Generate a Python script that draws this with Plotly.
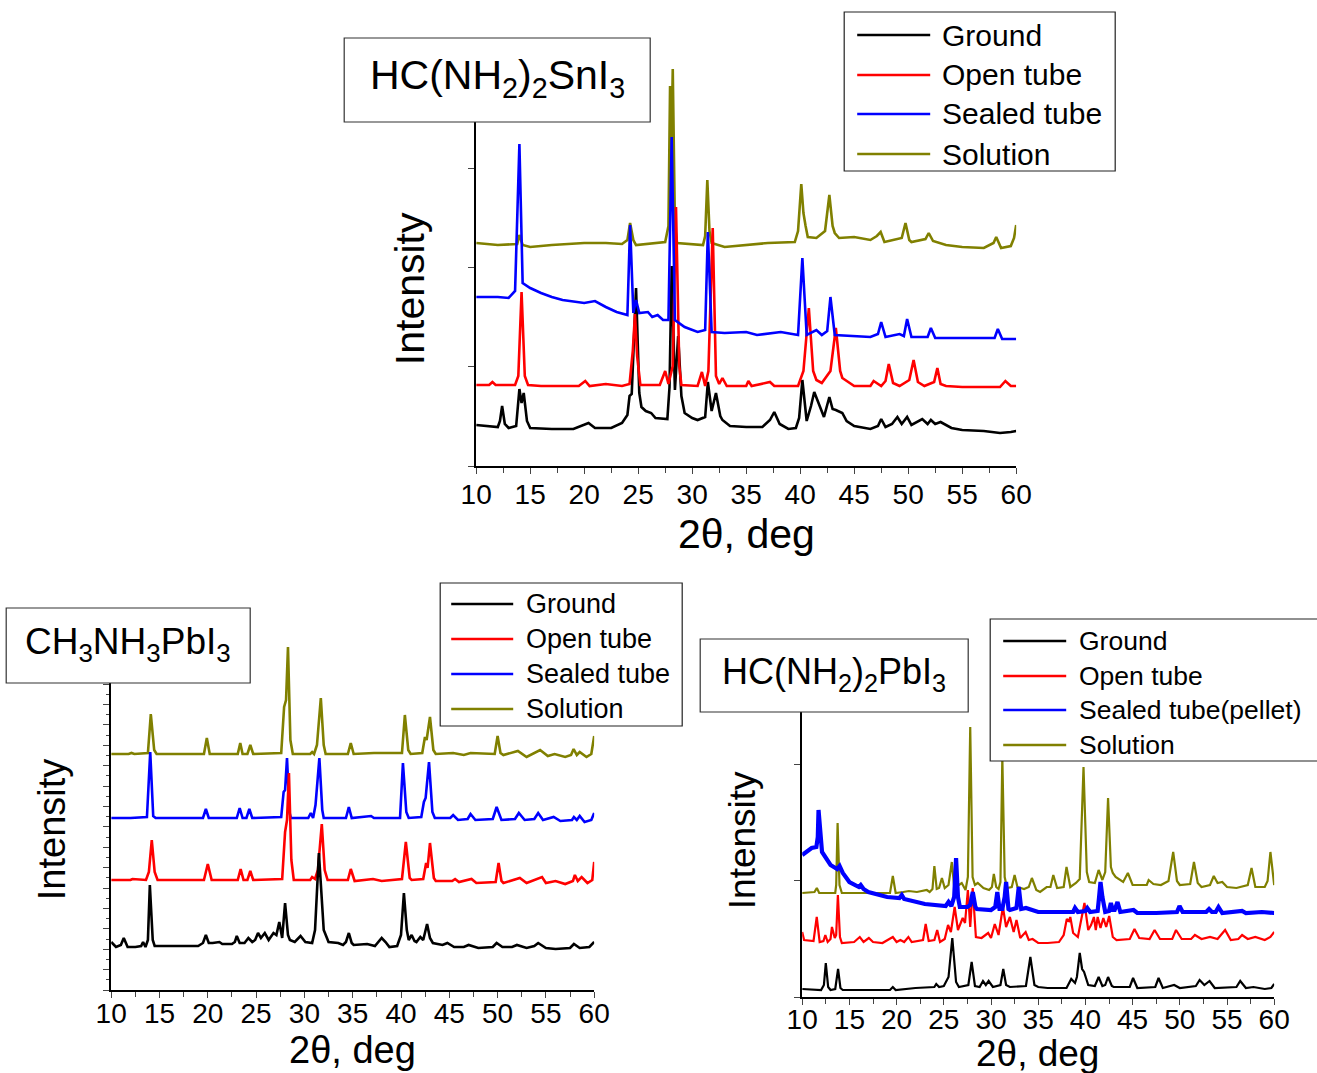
import plotly.graph_objects as go

W, H = 1317, 1073
FONT = "Arial, 'Liberation Sans', sans-serif"
# The page draws the figure in a box that starts ~16px from the left and is ~1285px wide;
# horizontal pixel targets are converted with this.
PAGE_X0, PAGE_W = 15.8, 1285.0

SERIES = ["Ground", "Open tube", "Sealed tube", "Solution"]
SERIES_P3 = ["Ground", "Open tube", "Sealed tube(pellet)", "Solution"]
COLORS = {"Ground": "#000000", "Open tube": "#FF0000", "Sealed tube": "#0000FF", "Solution": "#808000"}
X_TICKS = [10, 15, 20, 25, 30, 35, 40, 45, 50, 55, 60]
TITLES = ["HC(NH<sub>2</sub>)<sub>2</sub>SnI<sub>3</sub>", "CH<sub>3</sub>NH<sub>3</sub>PbI<sub>3</sub>",
          "HC(NH<sub>2</sub>)<sub>2</sub>PbI<sub>3</sub>"]

P1_GROUND = [(10,41),(11,40),(12,39),(12.2,45),(12.4,60),(12.65,42),(13,38),(13.7,40),(14.0,77),(14.2,63),(14.4,73),
             (14.7,45),(15,38),(17,37),(19,37),(20.4,43),(21,38),(22.5,38),(23.5,43),(24.0,51),(24.2,70),(24.4,72),
             (24.8,178),(25.1,73),(25.3,59),(25.7,55),(26.2,53),(26.6,48),(27.3,47),(27.7,47),(27.9,79),(28.1,200),
             (28.4,76),(28.7,130),(29.0,70),(29.3,53),(30,48),(30.5,46),(31.2,49),(31.45,84),(31.8,55),(32.2,73),
             (32.6,50),(32.8,46),(33.5,40),(35,39),(36.5,39),(37.2,46),(37.6,54),(38.1,42),(38.9,37),(39.6,38),
             (39.9,48),(40.2,86),(40.6,45),(41.0,60),(41.3,74),(41.7,62),(42.2,49),(42.7,69),(43.0,57),(43.3,56),
             (43.9,53),(44.3,45),(45,40),(46.5,37),(47.2,40),(47.5,47),(47.9,39),(48.5,42),(49,49),(49.4,42),
             (49.9,49),(50.3,41),(51.3,47),(51.8,42),(52.1,46),(52.5,42),(53,44),(54,38),(55,36),(57,35),(58.5,33),
             (59.5,34),(60,35)]
P1_OPEN = [(10,81),(11.2,81),(11.5,84),(11.8,81),(13.6,81),(13.9,90),(14.2,174),(14.5,90),(14.8,81),(16,80),(19.5,80),
           (20.1,85),(20.5,80),(22,82),(23.5,80),(24.2,82),(24.5,115),(24.7,152),(24.9,110),(25.2,81),(27.0,81),
           (27.5,95),(27.8,82),(28.2,100),(28.5,259),(28.8,100),(29.0,81),(30.5,80),(30.9,94),(31.2,80),(31.5,95),
           (31.9,238),(32.2,90),(32.5,82),(32.8,88),(33.2,80),(35.0,80),(35.2,85),(35.5,80),(37.2,84),(37.6,80),
           (39.8,80),(40.3,95),(40.8,158),(41.2,95),(41.5,86),(42.0,83),(42.8,95),(43.3,138),(43.7,95),(43.9,88),
           (44.3,85),(45,80),(46.5,80),(46.8,85),(47.5,80),(47.9,85),(48.2,102),(48.6,83),(49.2,80),(50.1,86),
           (50.5,106),(50.9,84),(51.5,80),(52.4,84),(52.7,98),(53.0,82),(53.5,80),(55,79),(58.5,79),(59,85),
           (59.5,80),(60,80)]
P1_SEALED = [(10,169),(12,169),(13,168),(13.6,175),(14.0,322),(14.3,183),(15,178),(16,173),(17,169),(18,166),(20,163),
             (21,165),(22,159),(23,154),(24,151),(24.25,241),(24.55,153),(24.8,166),(25.1,153),(25.9,154),(26.3,149),
             (26.8,151),(27.3,146),(27.8,146),(28.1,329),(28.4,146),(29.3,139),(30.5,134),(31.2,136),(31.45,234),
             (31.8,134),(33,133),(35,134),(36,131),(38.2,134),(39.8,131),(40.2,208),(40.6,131),(41.5,136),(42.0,131),
             (42.5,135),(42.8,169),(43.2,131),(46.5,129),(47.2,132),(47.5,144),(47.9,129),(49.2,132),(49.6,130),
             (49.9,147),(50.3,129),(51.8,129),(52.1,138),(52.5,128),(55,128),(58.0,128),(58.3,137),(58.7,127),(60,127)]
P1_SOLUTION = [(10,223),(12,221),(13.8,222),(14.0,231),(14.3,221),(15,219),(17,221),(20,223),(22,223),(23.5,222),
               (24.0,226),(24.25,243),(24.55,226),(24.8,221),(27.5,224),(27.8,240),(27.95,380),(28.05,300),
               (28.2,397),(28.4,240),(28.6,223),(31.0,221),(31.2,230),(31.4,286),(31.6,235),(31.8,223),(33,219),
               (35,221),(37,223),(39.5,224),(39.8,235),(40.1,282),(40.3,253),(40.5,240),(40.7,229),(41.5,228),
               (42.3,235),(42.7,271),(43.0,240),(43.2,233),(43.6,228),(45,229),(46.5,226),(47.1,230),(47.45,234),
               (47.8,224),(49.4,228),(49.75,243),(50.1,226),(50.3,224),(51.6,227),(51.9,233),(52.3,225),(53.5,221),
               (55,219),(57,218),(57.9,223),(58.15,229),(58.6,218),(59.5,220),(59.8,228),(60,241)]

P2_GROUND = [(10,48),(10.5,43),(11.0,45),(11.3,52),(11.7,43),(12.5,43),(13.1,44),(13.3,48),(13.55,43),(13.8,50),
             (14.0,105),(14.3,50),(14.5,44),(16,44),(19,44),(19.5,47),(19.8,55),(20.1,47),(20.5,47),(21.2,48),
             (21.5,46),(22.5,46),(22.8,48),(23,54),(23.3,47),(23.8,47),(24.2,52),(24.6,48),(24.9,50),(25.2,57),
             (25.5,52),(25.9,57),(26.3,50),(26.8,57),(27.1,55),(27.4,68),(27.7,52),(28.0,87),(28.3,55),(28.5,50),
             (29.0,48),(29.6,54),(30.1,48),(30.8,47),(31.1,60),(31.5,137),(31.8,90),(32.0,60),(32.5,48),(33.5,47),
             (34.0,45),(34.3,48),(34.6,57),(34.9,47),(35.1,45),(36,46),(36.5,46),(37.3,44),(37.8,50),(38.0,52),
             (38.4,48),(38.8,43),(39.6,44),(40.0,55),(40.3,97),(40.6,60),(40.8,50),(41.1,55),(41.4,49),(41.6,48),
             (42.0,53),(42.3,50),(42.7,66),(43.0,52),(43.3,47),(44.3,45),(44.8,47),(45.5,43),(46.5,43),(47,45),
             (48,42),(49.5,43),(49.9,47),(50.5,43),(51.5,43),(52,45),(53,42),(53.8,44),(54.2,47),(55,42),(56,41),
             (57.5,42),(57.9,46),(58.5,42),(59.5,43),(60,48)]
P2_OPEN = [(10,110),(12,110),(12.2,111),(13.6,110),(13.9,118),(14.2,150),(14.5,118),(14.8,110),(19.6,110),(20.0,126),
           (20.4,110),(23.1,110),(23.4,121),(23.7,110),(24.1,110),(24.4,119),(24.7,110),(27.7,111),(28.0,158),
           (28.2,170),(28.4,217),(28.65,130),(28.9,110),(30.6,110),(30.8,113),(31.1,111),(31.4,120),(31.8,166),
           (32.1,120),(32.4,110),(34.5,110),(34.8,121),(35.2,109),(37.1,111),(38,109),(40.1,111),(40.5,148),
           (40.9,112),(41.1,110),(42.3,111),(42.6,127),(42.75,122),(43.0,147),(43.4,112),(43.6,109),(45.3,109),
           (45.6,111),(46,108),(47.3,111),(47.8,107),(49.8,108),(50.1,127),(50.4,109),(50.6,107),(52.3,112),
           (53,107),(54.6,113),(55,107),(56,109),(57,106),(57.8,109),(58.0,115),(58.3,109),(58.7,113),(59.3,107),
           (59.8,110),(60,128)]
P2_SEALED = [(10,172),(12,172),(13.7,173),(14.04,238),(14.35,174),(14.6,172),(19.5,172),(19.8,181),(20.1,172),
             (23.0,172),(23.3,182),(23.6,172),(24.0,172),(24.3,181),(24.6,172),(27.6,173),(27.85,198),(28.0,200),
             (28.2,232),(28.45,178),(28.6,172),(30.4,172),(30.66,177),(30.9,172),(31.15,185),(31.3,203),(31.55,232),
             (31.85,180),(32.0,172),(34.3,172),(34.6,183),(34.9,172),(36.9,174),(37.2,172),(39.9,172),(40.2,227),
             (40.55,178),(40.8,172),(42.1,173),(42.37,188),(42.55,192),(42.9,228),(43.25,178),(43.5,172),(45.1,172),
             (45.4,175),(45.9,170),(46.9,171),(47.2,176),(47.7,170),(49.5,171),(49.9,183),(50.4,170),(51.8,171),
             (52.2,177),(52.8,170),(53.8,171),(54.2,177),(54.7,170),(55.8,173),(56.5,169),(57.7,170),(57.9,173),
             (58.2,170),(58.5,174),(59,168),(59.7,170),(60,177)]
P2_SOLUTION = [(10,236),(11.8,236),(12.1,237),(12.4,236),(13.8,237),(14.1,276),(14.45,240),(14.7,236),(19.6,236),
               (19.9,252),(20.2,236),(23.1,236),(23.36,247),(23.6,236),(24.1,236),(24.4,245),(24.7,236),(27.6,237),
               (27.9,283),(28.1,290),(28.3,343),(28.55,250),(28.8,236),(30.6,236),(30.8,238),(31.0,236),(31.3,245),
               (31.5,267),(31.7,292),(32.0,245),(32.2,236),(34.5,236),(34.8,247),(35.1,236),(37.2,237),(40.1,237),
               (40.4,275),(40.75,240),(41.0,236),(42.2,237),(42.48,253),(42.65,250),(43.0,273),(43.35,240),
               (43.6,236),(45.4,237),(46.5,235),(47.2,237),(49.7,236),(50.0,254),(50.3,237),(50.6,235),(52.1,239),
               (53,233),(54.4,240),(55.2,234),(55.9,236),(57,233),(57.6,235),(57.87,241),(58.2,235),(58.5,238),
               (59.2,233),(59.7,236),(60,254)]

P3_GROUND = [(10,8),(12.0,7),(12.3,12),(12.5,34),(12.75,10),(13.0,7),(13.5,8),(13.8,28),(14.05,9),(14.3,7),(19.3,7),
             (19.6,10),(19.9,7),(22,9),(24.0,10),(24.2,13),(24.5,10),(25.0,11),(25.5,20),(25.9,59),(26.3,15),
             (26.6,10),(27.6,12),(27.95,35),(28.3,11),(28.8,10),(29.15,16),(29.45,12),(29.75,16),(30.2,10),(31.0,12),
             (31.3,28),(31.6,12),(32.0,10),(33.7,11),(34.17,40),(34.6,12),(35.0,10),(36,9),(38.0,9),(38.5,18),
             (38.9,14),(39.1,20),(39.4,44),(39.65,28),(39.86,25),(40.3,12),(41.0,11),(41.4,20),(41.8,11),(42.1,12),
             (42.4,20),(42.8,11),(43,10),(44.7,10),(45.05,19),(45.5,9),(47.4,10),(47.75,19),(48.2,9),(49.4,12),
             (50,9),(51.7,11),(52.1,17),(52.6,12),(53.15,16),(53.7,9),(56.0,10),(56.4,16),(57,9),(57.8,10),(59,8),
             (59.7,9),(60,13)]
P3_OPEN = [(10,65),(10.2,57),(11.2,56),(11.54,80),(11.85,55),(12.25,56),(12.45,62),(12.7,55),(13.0,58),(13.15,70),
           (13.45,59),(13.6,62),(13.78,102),(14.0,60),(14.2,54),(15.5,55),(16.1,60),(16.5,55),(17.06,59),(17.5,55),
           (18.5,54),(19.6,60),(20.0,55),(20.4,57),(20.8,55),(21.25,60),(21.6,55),(22.4,56),(22.8,57),(23.08,73),
           (23.4,56),(24.0,57),(24.3,67),(24.6,55),(25.1,58),(25.45,72),(25.75,65),(26.15,90),(26.5,67),(27.0,79),
           (27.25,74),(27.55,107),(27.8,70),(28.06,109),(28.4,60),(29.0,59),(29.7,64),(30.0,59),(30.4,73),(30.8,62),
           (31.26,90),(31.6,70),(32.0,80),(32.4,65),(32.7,77),(33.1,59),(33.67,65),(34.0,57),(34.4,58),(35,54),
           (36,54),(37.2,55),(37.7,62),(38.03,78),(38.25,76),(38.4,80),(38.7,64),(39.2,60),(39.9,94),(40.3,67),
           (40.6,72),(40.9,80),(41.1,67),(41.3,80),(41.6,69),(41.9,79),(42.2,70),(42.52,81),(42.9,60),(43.3,57),
           (44.7,58),(45.2,68),(45.7,59),(46.8,58),(47.33,67),(47.9,58),(49.2,58),(49.6,67),(50.2,58),(51.2,58),
           (51.6,62),(52.3,58),(53.2,60),(54.0,58),(54.8,67),(55.4,57),(56.2,58),(56.6,62),(57.2,58),(58.0,60),
           (59.0,57),(59.6,60),(60,65)]
P3_SEALED = [(10,142),(11.0,149),(11.5,150),(11.65,160),(11.73,187),(11.85,170),(12.1,145),(13.0,132),(13.7,128),
             (13.96,131),(14.3,124),(15.0,115),(16.0,110),(16.2,112),(16.5,108),(17.0,105),(19.0,100),(20.3,99),
             (20.55,102),(20.8,98),(23.0,93),(25.2,91),(25.5,95),(25.8,91),(26.1,100),(26.3,139),(26.5,100),
             (26.7,90),(27.5,90),(27.8,92),(28.07,105),(28.35,90),(28.5,88),(30.0,87),(30.45,90),(30.67,105),
             (30.9,88),(31.2,88),(31.45,100),(31.6,115),(31.85,88),(32.0,87),(32.7,89),(32.94,110),(33.2,88),
             (33.7,89),(35,85),(37,85),(38.7,85),(38.9,89),(39.2,85),(40.0,86),(40.2,89),(40.5,85),(41.3,86),
             (41.45,100),(41.6,115),(41.8,100),(42.1,85),(42.5,86),(42.7,94),(42.9,87),(43.1,87),(43.4,95),
             (43.7,85),(45.1,87),(45.5,84),(47.5,84),(49.7,85),(49.97,91),(50.3,85),(52.8,85),(53.1,88),(53.4,85),
             (53.8,85),(54.1,90),(54.5,84),(56.6,86),(57.0,84),(58.7,85),(60,84)]
P3_SOLUTION = [(10,104),(11.3,105),(11.55,109),(11.8,104),(13.5,104),(13.6,112),(13.75,174),(13.95,112),(14.2,104),
               (17,104),(19.3,104),(19.6,121),(19.9,104),(20.7,105),(21.3,106),(22.15,105),(23.2,107),(23.5,105),
               (23.8,108),(24.0,131),(24.25,108),(24.5,109),(24.8,119),(25.1,109),(25.5,112),(25.85,135),(26.1,110),
               (26.6,112),(26.9,114),(27.3,107),(27.55,120),(27.8,270),(28.05,120),(28.3,112),(28.6,114),(29.2,109),
               (29.8,107),(30.1,110),(30.3,123),(30.55,110),(30.8,108),(31.0,115),(31.2,240),(31.45,120),(31.7,109),
               (32.2,110),(32.5,122),(32.8,110),(33.5,108),(34.0,110),(34.33,119),(34.8,107),(35.2,105),(35.9,110),
               (36.3,110),(36.6,122),(37.0,109),(37.7,110),(38.0,130),(38.4,110),(39.0,114),(39.4,118),(39.8,230),
               (40.15,125),(40.4,115),(41.0,114),(41.4,127),(41.8,117),(42.1,125),(42.4,199),(42.7,130),(42.9,124),
               (43.2,120),(44.0,115),(44.5,124),(45.0,112),(46.5,112),(46.7,117),(47.2,113),(48.0,112),(48.8,116),
               (49.3,145),(49.7,116),(50.0,112),(51.1,113),(51.5,135),(51.9,114),(52.3,110),(53.2,112),(53.6,121),
               (54.0,114),(54.5,115),(55.0,110),(56.0,109),(57.2,112),(57.6,129),(58.0,110),(59.0,110),(59.3,116),
               (59.6,145),(59.85,125),(60,112)]


def px(x):
    return (x - PAGE_X0) / PAGE_W


def py(y):
    return 1 - y / H


fig = go.Figure()

PANELS = [
    dict(ax="", left=476, right=1016, bottom=466, top=60, ymax=406, dy=99.3, minor=None, lab=-3,
         data={"Ground": P1_GROUND, "Open tube": P1_OPEN, "Sealed tube": P1_SEALED, "Solution": P1_SOLUTION},
         order=["Solution", "Ground", "Open tube", "Sealed tube"], widths={}, w=2.6),
    dict(ax="2", left=111, right=594, bottom=990, top=640, ymax=350, dy=20.4, minor=10.2, lab=-8,
         data={"Ground": P2_GROUND, "Open tube": P2_OPEN, "Sealed tube": P2_SEALED, "Solution": P2_SOLUTION},
         order=["Solution", "Sealed tube", "Open tube", "Ground"], widths={}, w=2.6),
    dict(ax="3", left=802, right=1274, bottom=997, top=705, ymax=292, dy=116.5, minor=None, lab=-9,
         data={"Ground": P3_GROUND, "Open tube": P3_OPEN, "Sealed tube": P3_SEALED, "Solution": P3_SOLUTION},
         order=["Solution", "Open tube", "Ground", "Sealed tube"], widths={"Sealed tube": 4.2}, w=2.2),
]

layout = {}
for p in PANELS:
    a = p["ax"]
    for name in p["order"]:
        pts = p["data"][name]
        fig.add_trace(go.Scatter(
            x=[q[0] for q in pts], y=[q[1] for q in pts], mode="lines", name=name, showlegend=False,
            line=dict(color=COLORS[name], width=p["widths"].get(name, p["w"])),
            xaxis="x" + a, yaxis="y" + a))
    layout["xaxis" + a] = dict(
        domain=[px(p["left"]), px(p["right"])], range=[10, 60], anchor="y" + a,
        tickmode="array", tickvals=X_TICKS, ticks="outside", ticklen=6, tickwidth=1.3,
        ticklabelstandoff=p["lab"],
        minor=dict(dtick=2.5, tick0=10, ticks="outside", ticklen=5, tickwidth=1.3, showgrid=False),
        showline=True, linecolor="black", linewidth=1.5, showgrid=False, zeroline=False,
        tickfont=dict(family=FONT, size=28, color="black"), fixedrange=True)
    ya = dict(
        domain=[py(p["bottom"]), py(p["top"])], range=[0, p["ymax"]], anchor="x" + a,
        tick0=0, dtick=p["dy"], ticks="outside", ticklen=6, tickwidth=1.3, showticklabels=False,
        showline=True, linecolor="black", linewidth=1.5, showgrid=False, zeroline=False, fixedrange=True)
    if p["minor"]:
        ya["minor"] = dict(dtick=p["minor"], tick0=0, ticks="outside", ticklen=3, tickwidth=1.2, showgrid=False)
    layout["yaxis" + a] = ya

shapes = []
annotations = []

AXIS_TITLES = [
    ((746, 534), (410, 289), 41),
    ((352, 1050), (52, 829), 38),
    ((1037, 1053), (742, 840), 37),
]
for (xt, yt, fs) in AXIS_TITLES:
    annotations.append(dict(text="2θ, deg", x=px(xt[0]), y=py(xt[1]), xref="paper", yref="paper",
                            xanchor="center", yanchor="middle", showarrow=False,
                            font=dict(family=FONT, size=fs, color="black")))
    annotations.append(dict(text="Intensity", x=px(yt[0]), y=py(yt[1]), xref="paper", yref="paper",
                            xanchor="center", yanchor="middle", showarrow=False, textangle=-90,
                            font=dict(family=FONT, size=fs, color="black")))

BOXES = [(344, 38, 650, 122, 41), (6, 608, 250, 683, 37), (700, 639, 968, 712, 36)]
for (x0, y0, x1, y1, fs), title in zip(BOXES, TITLES):
    shapes.append(dict(type="rect", xref="paper", yref="paper", x0=px(x0), x1=px(x1), y0=py(y1), y1=py(y0),
                       fillcolor="white", line=dict(color="#333333", width=1.2), layer="above"))
    annotations.append(dict(text=title, x=px((x0 + x1) / 2), y=py((y0 + y1) / 2 - 2), xref="paper", yref="paper",
                            xanchor="center", yanchor="middle", showarrow=False,
                            font=dict(family=FONT, size=fs, color="black")))

LEGENDS = [
    ((844, 12, 1115, 171), 857, 930, 940, [35, 75, 114, 154], 30, SERIES),
    ((440, 583, 682, 726), 451, 513, 524, [604, 639, 674, 709], 27, SERIES),
    ((990, 619, 1330, 761), 1003, 1066, 1077, [641, 676, 710, 745], 26.5, SERIES_P3),
]
for (box, lx0, lx1, tx, rows, fs, labels) in LEGENDS:
    x0, y0, x1, y1 = box
    shapes.append(dict(type="rect", xref="paper", yref="paper", x0=px(x0), x1=px(x1), y0=py(y1), y1=py(y0),
                       fillcolor="white", line=dict(color="#222222", width=1.2), layer="above"))
    for name, label, ry in zip(SERIES, labels, rows):
        shapes.append(dict(type="line", xref="paper", yref="paper", x0=px(lx0), x1=px(lx1), y0=py(ry), y1=py(ry),
                           line=dict(color=COLORS[name], width=2.6), layer="above"))
        annotations.append(dict(text=label, x=px(tx), y=py(ry), xref="paper", yref="paper",
                                xanchor="left", yanchor="middle", showarrow=False,
                                font=dict(family=FONT, size=fs, color="black")))

fig.update_layout(
    width=W, height=H, margin=dict(l=0, r=0, t=0, b=0),
    paper_bgcolor="white", plot_bgcolor="white", showlegend=False,
    shapes=shapes, annotations=annotations, **layout)

fig.write_html("out.html")
